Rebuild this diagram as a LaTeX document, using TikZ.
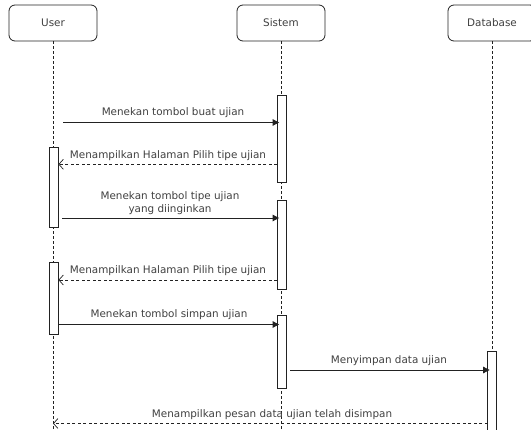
\documentclass[tikz,border=0pt]{standalone}
\usepackage{fontspec}
\setmainfont{DejaVu Sans}
\usetikzlibrary{arrows.meta}
\definecolor{ln}{HTML}{222222}
\definecolor{tx}{HTML}{404040}
\tikzset{
  actor/.style={draw=ln, line width=0.8pt, rounded corners=6pt, fill=white, minimum width=88pt, minimum height=36pt, inner sep=0pt, text=tx, font=\fontsize{10.4}{12}\selectfont},
  life/.style={draw=ln, line width=0.6pt, dash pattern=on 2.5pt off 2.5pt},
  bar/.style={draw=ln, line width=0.8pt, fill=white, minimum width=9pt, inner sep=0pt},
  msg/.style={draw=ln, line width=0.8pt, shorten >=-2.5pt, -{Triangle[length=6.5pt,width=6.5pt]}},
  ret/.style={draw=ln, line width=0.7pt, dash pattern=on 3pt off 2.5pt, -{Straight Barb[length=4.5pt,width=10pt,line width=0.7pt]}},
  lbl/.style={text=tx, inner sep=0pt, font=\fontsize{10.4}{13}\selectfont, align=center}
}
\begin{document}
\begin{tikzpicture}[x=1pt,y=-1pt]
\useasboundingbox (0,0) rectangle (531,430);
% actors
\node[actor] (user) at (53,23) {User};
\node[actor] (sis) at (281,23) {Sistem};
\node[actor] (db) at (492,23) {Database};
\coordinate (userend) at (53,432);
\coordinate (sisend) at (281,432);
\coordinate (dbend) at (492,432);
\draw[life] (user.south) -- (userend);
\draw[life] (sis.south) -- (sisend);
\draw[life] (db.south) -- (dbend);
% activation bars
\node[bar, minimum height=86.5pt] (sb1) at (281.5,138.75) {};
\node[bar, minimum height=80pt] (ub1) at (53.5,187) {};
\node[bar, minimum height=89pt] (sb2) at (281.5,244.5) {};
\node[bar, minimum height=72pt] (ub2) at (53.5,298) {};
\node[bar, minimum height=73pt] (sb3) at (281.5,351.5) {};
\node[bar, minimum height=90pt] (dbb) at (492,396.5) {};
% message start points
\coordinate (m1) at (63,122.5);
\coordinate (m2) at (277,164.3);
\coordinate (m3) at (62,218);
\coordinate (m4) at (277,280);
\coordinate (m5) at (58.5,324.5);
\coordinate (m6) at (290,370);
\coordinate (m7) at (487.5,423.5);
% messages
\draw[msg] (m1) -- (sb1.west |- m1);
\draw[ret] (m2) -- (ub1.east |- m2);
\draw[msg] (m3) -- (sb2.west |- m3);
\draw[ret] (m4) -- (ub2.east |- m4);
\draw[msg] (m5) -- (sb3.west |- m5);
\draw[msg] (m6) -- (dbb.west |- m6);
\draw[ret] (m7) -- (user.south |- m7);
% labels
\node[lbl] (l1) at (173,113) {Menekan tombol buat ujian};
\node[lbl] (l2) at (168,156) {Menampilkan Halaman Pilih tipe ujian};
\node[lbl] (l3) at (170,203) {Menekan tombol tipe ujian\\yang diinginkan};
\node[lbl] (l4) at (168,271) {Menampilkan Halaman Pilih tipe ujian};
\node[lbl] (l5) at (169,315) {Menekan tombol simpan ujian};
\node[lbl] (l6) at (389,361) {Menyimpan data ujian};
\node[lbl] (l7) at (272,414.5) {Menampilkan pesan data ujian telah disimpan};
\end{tikzpicture}
\end{document}
